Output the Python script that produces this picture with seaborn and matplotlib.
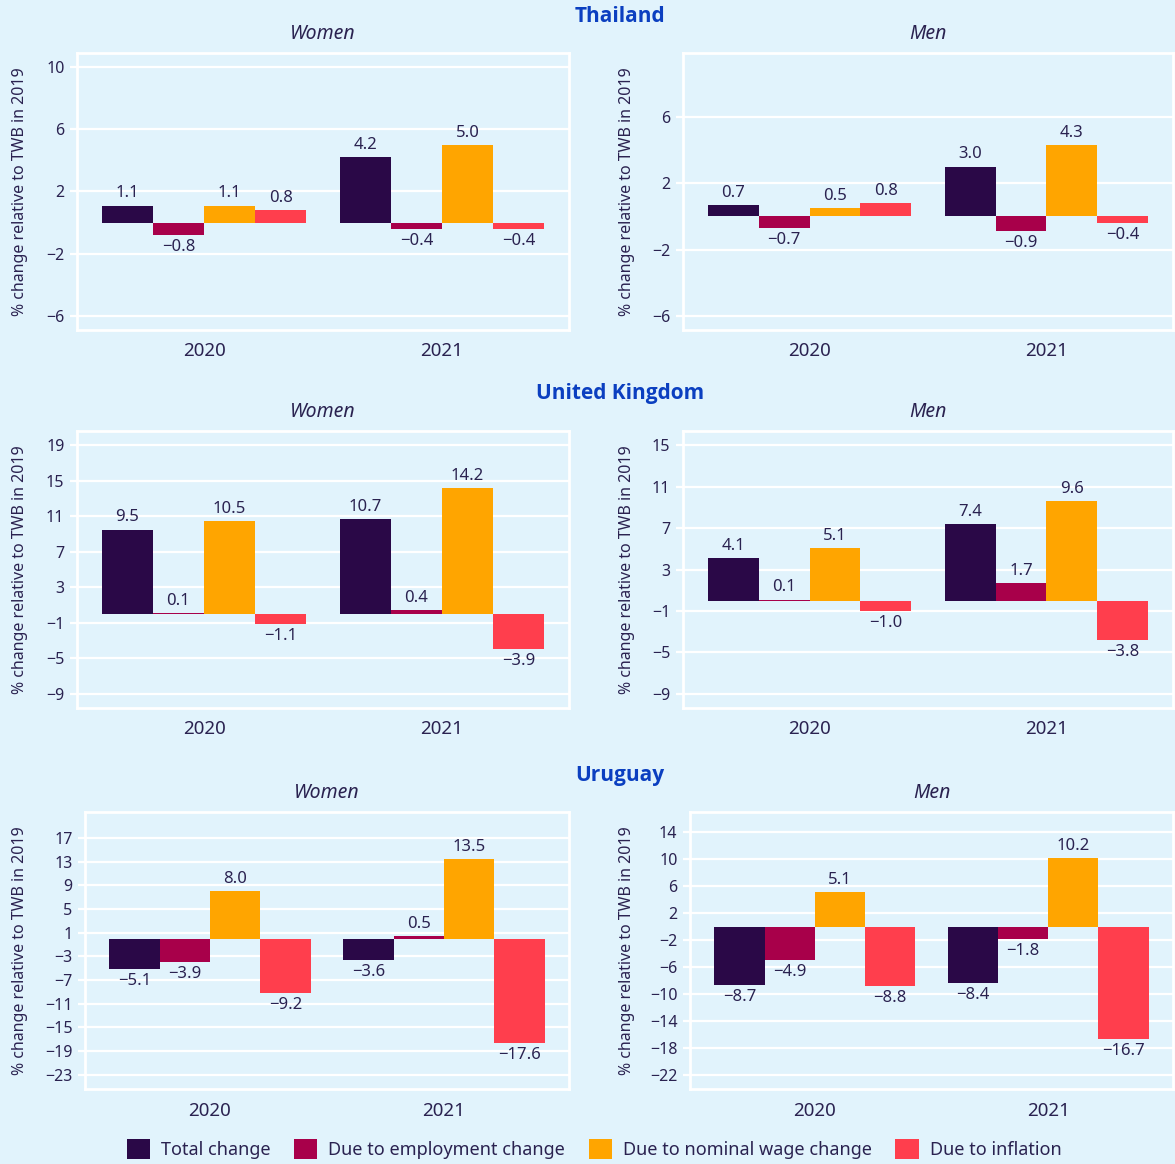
#
# plot.py
#   - Decomposition of total wage bill change by sex, three countries.
#

import numpy as np
import pandas as pd
import seaborn as sns
import matplotlib.pyplot as plt
from matplotlib.patches import Patch

years = ["2020", "2021"]
components = ["Total change", "Due to employment change",
              "Due to nominal wage change", "Due to inflation"]

# rows follow `components`, columns follow `years`
thailand_women = [[1.1, 4.2], [-0.8, -0.4], [1.1, 5.0], [0.8, -0.4]]
thailand_men = [[0.7, 3.0], [-0.7, -0.9], [0.5, 4.3], [0.8, -0.4]]
uk_women = [[9.5, 10.7], [0.1, 0.4], [10.5, 14.2], [-1.1, -3.9]]
uk_men = [[4.1, 7.4], [0.1, 1.7], [5.1, 9.6], [-1.0, -3.8]]
uruguay_women = [[-5.1, -3.6], [-3.9, 0.5], [8.0, 13.5], [-9.2, -17.6]]
uruguay_men = [[-8.7, -8.4], [-4.9, -1.8], [5.1, 10.2], [-8.8, -16.7]]

countries = ["Thailand", "United Kingdom", "Uruguay"]
sexes = ["Women", "Men"]

BG = "#E1F3FC"
TEXT = "#2A2250"
TITLE_BLUE = "#0B3FC0"
palette = ["#2A0847", "#A8004A", "#FFA500", "#FF3E4D"]
YLABEL = "% change relative to TWB in 2019"


def to_frame(values):
    rows = []
    for comp, vals in zip(components, values):
        for yr, v in zip(years, vals):
            rows.append({"year": yr, "component": comp, "value": v})
    return pd.DataFrame(rows)


def fmt(v):
    return f"{v:.1f}".replace("-", "\u2212")


def main():
    plt.rcParams["font.family"] = ["Noto Sans", "DejaVu Sans"]
    W, H = 1175, 1164
    fig = plt.figure(figsize=(W / 100, H / 100), dpi=100, facecolor=BG)

    # panel boxes in pixels: x0, x1, y0, y1 (from top), plus y-range / ticks
    panels = [
        (thailand_women, (77, 569, 53, 330), (-6.9, 10.9), np.arange(-6, 11, 4)),
        (thailand_men, (683, 1173, 53, 330), (-6.85, 9.85), np.arange(-6, 7, 4)),
        (uk_women, (77, 569, 431, 708), (-10.6, 20.6), np.arange(-9, 20, 4)),
        (uk_men, (683, 1173, 431, 708), (-10.35, 16.35), np.arange(-9, 16, 4)),
        (uruguay_women, (85, 569, 812, 1089), (-25.4, 21.4), np.arange(-23, 18, 4)),
        (uruguay_men, (690, 1173, 812, 1089), (-24.1, 17.0), np.arange(-22, 15, 4)),
    ]

    for i, (vals, (x0, x1, y0, y1), ylim, ticks) in enumerate(panels):
        ax = fig.add_axes([x0 / W, 1 - y1 / H, (x1 - x0) / W, (y1 - y0) / H])
        ax.set_facecolor(BG)
        df = to_frame(vals)
        sns.barplot(data=df, x="year", y="value", hue="component",
                    hue_order=components, palette=palette, width=0.86,
                    saturation=1, linewidth=0, legend=False, ax=ax)
        for cont, comp_vals in zip(ax.containers, vals):
            ax.bar_label(cont, labels=[fmt(v) for v in comp_vals],
                         padding=3, fontsize=12, color=TEXT)

        ax.set_xlim(-0.534, 1.534)
        ax.set_ylim(*ylim)
        ax.set_yticks(ticks)
        ax.set_yticklabels([str(t).replace("-", "\u2212") for t in ticks])
        ax.grid(axis="y", color="white", linewidth=1.6)
        ax.set_axisbelow(True)
        for s in ax.spines.values():
            s.set_color("white")
            s.set_linewidth(2)
        ax.tick_params(axis="y", colors="white", length=5, width=1.6,
                       labelcolor=TEXT, labelsize=11.5, pad=4)
        ax.tick_params(axis="x", length=0, labelcolor=TEXT, labelsize=13.5, pad=9)
        ax.set_xlabel("")
        ax.set_ylabel(YLABEL, fontsize=11.5, color=TEXT, va="center")
        xc = 20 if i % 2 == 0 else 627
        ax.yaxis.set_label_coords((xc - x0) / (x1 - x0), 0.5)
        ax.set_title(sexes[i % 2], style="italic", fontsize=14, color=TEXT, pad=10)

    for name, y in zip(countries, [16, 394, 776]):
        fig.text(620 / W, 1 - y / H, name, ha="center", va="center",
                 fontsize=15, fontweight="bold", color=TITLE_BLUE,
                 family=["Open Sans", "Noto Sans", "DejaVu Sans"])

    handles = [Patch(facecolor=c, edgecolor="none") for c in palette]
    fig.legend(handles, components, loc="center", bbox_to_anchor=(594 / W, 1 - 1149 / H),
               ncol=4, frameon=False, fontsize=13, handlelength=1.3, handleheight=1.3,
               handletextpad=0.6, columnspacing=1.3, labelcolor=TEXT)

    plt.savefig("out.png", dpi=100, facecolor=BG)


if __name__ == '__main__':
    main()
